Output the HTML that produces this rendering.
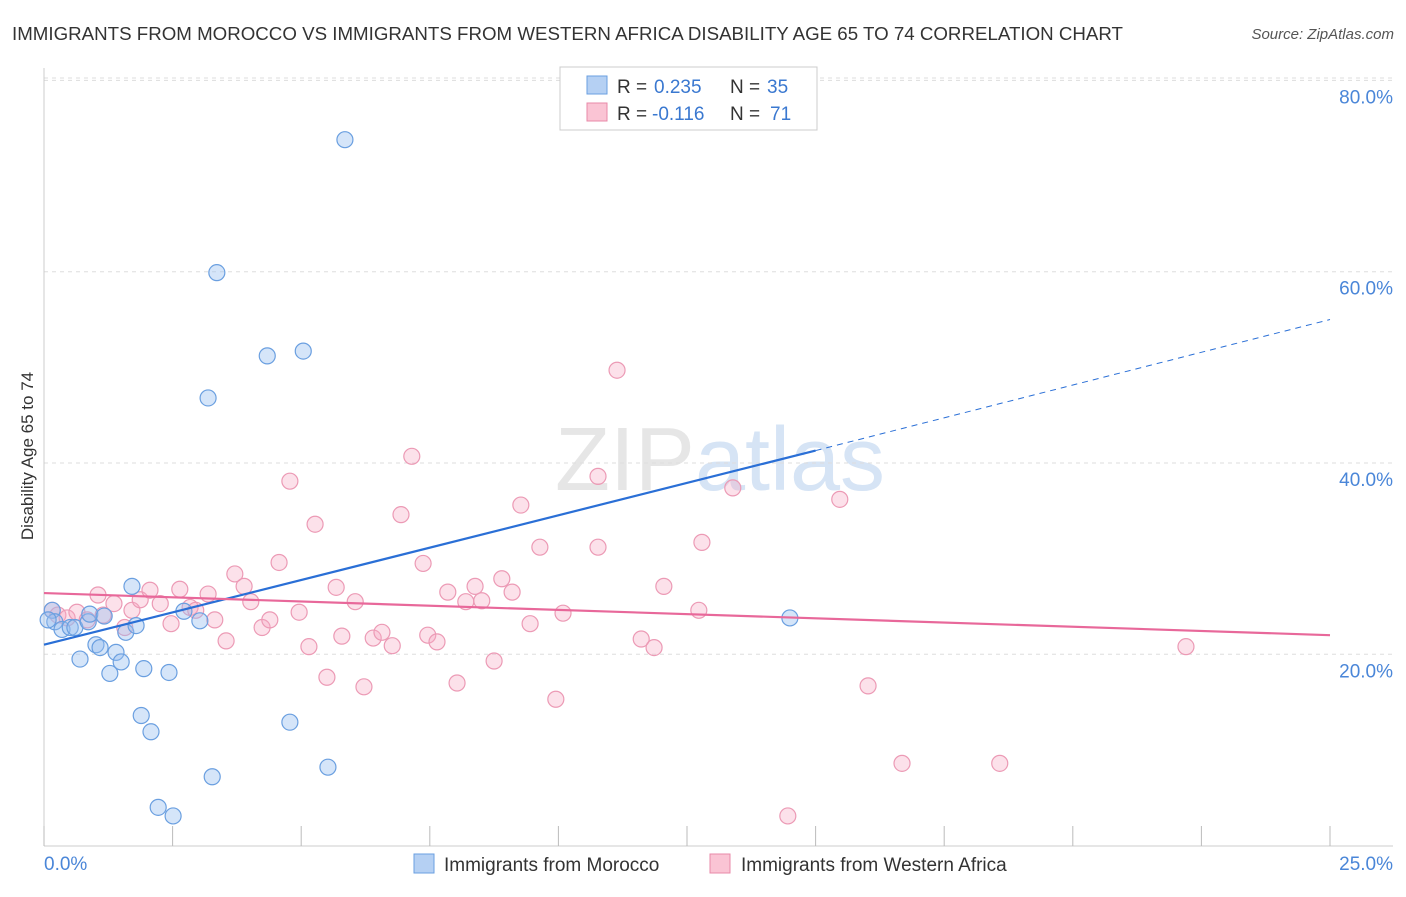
<!DOCTYPE html>
<html><head><meta charset="utf-8"><style>
body{margin:0;background:#fff;font-family:"Liberation Sans",sans-serif}
svg text{font-family:"Liberation Sans",sans-serif}
</style></head><body>
<svg id="chart" width="1406" height="892" viewBox="0 0 1406 892" xmlns="http://www.w3.org/2000/svg">
<text x="12" y="40" font-size="18.6" fill="#333" textLength="1111" lengthAdjust="spacingAndGlyphs">IMMIGRANTS FROM MOROCCO VS IMMIGRANTS FROM WESTERN AFRICA DISABILITY AGE 65 TO 74 CORRELATION CHART</text>
<text x="1394" y="39" font-size="15" fill="#555" text-anchor="end" font-style="italic">Source: ZipAtlas.com</text>
<text x="720" y="490" font-size="90" fill="#e6e6e6" text-anchor="middle" font-family="Liberation Serif">ZIP<tspan fill="#d6e4f5" font-family="Liberation Sans">atlas</tspan></text>
<g id="grid"></g>
<g id="axes"></g>
<g id="pts"></g>
<g id="trends"></g>
<text transform="translate(33,456) rotate(-90)" font-size="17" fill="#333" text-anchor="middle">Disability Age 65 to 74</text>
<g>
<rect x="560" y="67" width="257" height="63" fill="#fff" stroke="#ccc"/>
<rect x="587" y="76" width="20" height="18" fill="#b5d0f3" stroke="#6a9fe0"/>
<rect x="587" y="103" width="20" height="18" fill="#fac4d4" stroke="#e88aa8"/>
<text x="617" y="93" font-size="19" fill="#333">R =</text>
<text x="654" y="93" font-size="19" fill="#3a78d0">0.235</text>
<text x="730" y="93" font-size="19" fill="#333">N =</text>
<text x="767" y="93" font-size="19" fill="#3a78d0">35</text>
<text x="617" y="120" font-size="19" fill="#333">R =</text>
<text x="652" y="120" font-size="19" fill="#3a78d0">-0.116</text>
<text x="730" y="120" font-size="19" fill="#333">N =</text>
<text x="770" y="120" font-size="19" fill="#3a78d0">71</text>
</g>
<g>
<rect x="414" y="854" width="20" height="19" fill="#b5d0f3" stroke="#6a9fe0"/>
<text x="444" y="871" font-size="19" fill="#333">Immigrants from Morocco</text>
<rect x="710" y="854" width="20" height="19" fill="#fac4d4" stroke="#e88aa8"/>
<text x="741" y="871" font-size="19" fill="#333">Immigrants from Western Africa</text>
</g>
</svg>
<script>
const blueX=[0.16,0.21,0.35,0.51,0.60,0.86,0.89,1.01,1.09,0.70,1.17,1.28,1.40,1.50,1.59,1.71,1.79,1.94,1.89,2.08,2.43,2.22,2.51,2.72,3.03,3.27,3.19,3.36,4.34,5.04,4.78,5.52,5.85,14.50,0.08];
const blueY=[24.6,23.4,22.6,22.8,22.8,23.4,24.2,21.0,20.7,19.5,24.0,18.0,20.2,19.2,22.3,27.1,23.0,18.5,13.6,11.9,18.1,4.0,3.1,24.5,23.5,7.2,46.8,59.9,51.2,51.7,12.9,8.2,73.8,23.8,23.6];
const pinkX=[0.16,0.27,0.45,0.64,0.84,1.05,1.15,1.36,1.57,1.71,1.87,2.06,2.26,2.47,2.64,2.84,2.95,3.19,3.32,3.54,3.71,3.89,4.02,4.24,4.39,4.57,4.78,4.96,5.15,5.27,5.50,5.68,5.79,6.05,6.22,6.40,6.57,6.77,6.94,7.15,7.37,7.46,7.64,7.85,8.03,8.20,8.38,8.51,8.75,8.90,9.10,9.27,9.45,9.64,9.95,10.09,10.77,10.77,11.14,11.61,11.86,12.05,12.73,12.79,13.39,14.46,15.47,16.02,16.68,18.58,22.20];
const pinkY=[24.6,24.1,23.8,24.4,23.6,26.2,24.1,25.3,22.8,24.6,25.7,26.7,25.3,23.2,26.8,24.9,24.6,26.3,23.6,21.4,28.4,27.1,25.5,22.8,23.6,29.6,38.1,24.4,20.8,33.6,17.6,27.0,21.9,25.5,16.6,21.7,22.3,20.9,34.6,40.7,29.5,22.0,21.3,26.5,17.0,25.5,27.1,25.6,19.3,27.9,26.5,35.6,23.2,31.2,15.3,24.3,38.6,31.2,49.7,21.6,20.7,27.1,24.6,31.7,37.4,3.1,36.2,16.7,8.6,8.6,20.8];
const yTicks=[20,40,60,80];
const yTickLabels=["20.0%","40.0%","60.0%","80.0%"];
const xTickLabels=["0.0%","25.0%"];
const blueTrend=[[0,21.0],[15.0,41.3],[25,55.0]];
const pinkTrend=[[0,26.4],[25,22.0]];
const NS="http://www.w3.org/2000/svg";
const sx=v=>44+v*51.44, sy=v=>845.6-v*9.565;
function mk(tag,attrs,parent){const e=document.createElementNS(NS,tag);for(const k in attrs)e.setAttribute(k,attrs[k]);document.getElementById(parent).appendChild(e);return e;}
yTicks.forEach((t,i)=>{
 const g=mk('line',{x1:44,x2:1393,y1:sy(t),y2:sy(t),stroke:'#ddd','stroke-dasharray':'4,4'},'grid');
 
 
 const l=mk('text',{x:1393,y:sy(t)+23,'font-size':19,fill:'#4a86d8','text-anchor':'end'},'axes');
 l.textContent=yTickLabels[i];
 
 
});
const topGrid=mk('line',{x1:44,x2:1393,y1:78,y2:78,stroke:'#ddd','stroke-dasharray':'4,4'},'grid');


const ya=mk('line',{x1:44,x2:44,y1:68,y2:846,stroke:'#ccc'},'axes');


const xa=mk('line',{x1:44,x2:1393,y1:846,y2:846,stroke:'#ccc'},'axes');


for(let i=0;i<=10;i++){
 const t=mk('line',{x1:sx(i*2.5),x2:sx(i*2.5),y1:826,y2:846,stroke:'#bbb'},'axes');
 
 
}
[[0,'start',44],[1,'end',1393]].forEach(([i,a,x])=>{
 const l=mk('text',{x:x,y:870,'font-size':19,fill:'#4a86d8','text-anchor':a},'axes');
 l.textContent=xTickLabels[i];
 
 
});
pinkX.forEach((x,i)=>{
 const c=mk('circle',{cx:sx(x),cy:sy(pinkY[i]),r:8,fill:'rgba(245,170,195,0.35)',stroke:'#ec9ab5','stroke-width':1.2},'pts');
 
 
});
blueX.forEach((x,i)=>{
 const c=mk('circle',{cx:sx(x),cy:sy(blueY[i]),r:8,fill:'rgba(150,190,240,0.4)',stroke:'#6a9fe0','stroke-width':1.2},'pts');
 
 
});
const b1=mk('line',{x1:sx(blueTrend[0][0]),y1:sy(blueTrend[0][1]),x2:sx(blueTrend[1][0]),y2:sy(blueTrend[1][1]),stroke:'#2a6fd6','stroke-width':2.2},'trends');


const b2=mk('line',{x1:sx(blueTrend[1][0]),y1:sy(blueTrend[1][1]),x2:sx(blueTrend[2][0]),y2:sy(blueTrend[2][1]),stroke:'#2a6fd6','stroke-width':1,'stroke-dasharray':'6,5'},'trends');


const p1=mk('line',{x1:sx(pinkTrend[0][0]),y1:sy(pinkTrend[0][1]),x2:sx(pinkTrend[1][0]),y2:sy(pinkTrend[1][1]),stroke:'#e8689a','stroke-width':2.2},'trends');


</script>
</body></html>
